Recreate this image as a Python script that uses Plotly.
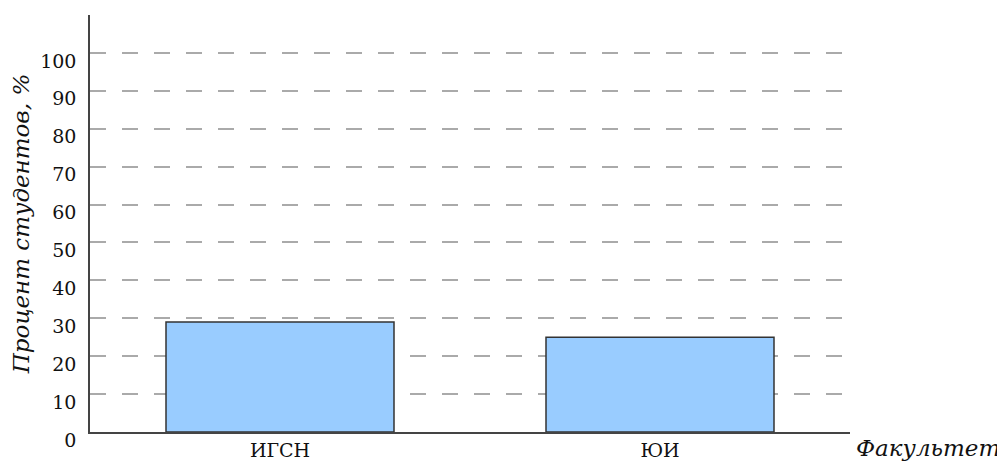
import plotly.graph_objects as go

categories = ["ИГСН", "ЮИ"]
values = [29, 25]
y_ticks = [0, 10, 20, 30, 40, 50, 60, 70, 80, 90, 100]
y_title = "Процент студентов, %"
x_title = "Факультет"

font_family = "DejaVu Serif"
tick_size = 19
title_size = 23
text_color = "#111111"

fig = go.Figure()
fig.add_trace(go.Bar(
    x=categories, y=values, width=0.6,
    marker=dict(color="#99ccff", line=dict(color="#333333", width=1.5)),
))

fig.update_layout(
    width=997, height=453,
    margin=dict(l=82, r=155, t=7, b=29),
    paper_bgcolor="white", plot_bgcolor="white",
    showlegend=False,
    font=dict(family=font_family, size=tick_size, color=text_color),
    xaxis=dict(
        range=[-0.5, 1.5],
        showline=True, linecolor="#444444", linewidth=1.5,
        showgrid=False, ticks="", zeroline=False, automargin=False,
        tickfont=dict(family=font_family, size=tick_size, color=text_color),
        ticklabelstandoff=0,
    ),
    yaxis=dict(
        range=[0, 110],
        tickvals=y_ticks,
        showline=True, linecolor="#444444", linewidth=1.5,
        showgrid=True, gridcolor="#aaaaaa", gridwidth=1.5,
        griddash="16px,16px",
        zeroline=False, ticks="", automargin=False,
        tickfont=dict(family=font_family, size=tick_size, color=text_color),
        ticklabelstandoff=8,
        ticklabelshift=8,
        title=dict(text=y_title, font=dict(family=font_family, size=title_size, style="italic", color=text_color)),
    ),
    annotations=[dict(
        text=x_title, xref="paper", yref="paper", x=1.0, y=0,
        xanchor="left", yanchor="middle", xshift=4, yshift=-16, showarrow=False,
        font=dict(family=font_family, size=title_size, style="italic", color=text_color),
    )],
)

fig.write_html("out.html")
